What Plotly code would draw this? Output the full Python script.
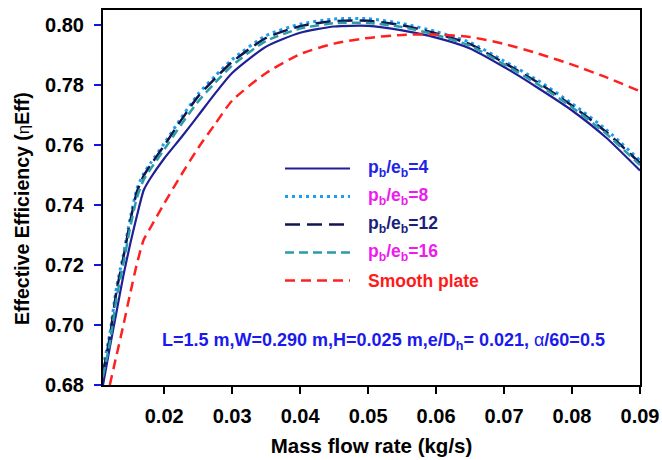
import plotly.graph_objects as go

# Mass flow rate grid (kg/s) for the roughened plates
mass_flow = [0.011, 0.012, 0.013, 0.014, 0.015, 0.016, 0.017, 0.018, 0.02, 0.0225,
             0.025, 0.0275, 0.03, 0.035, 0.04, 0.045, 0.05, 0.055, 0.06, 0.065,
             0.07, 0.075, 0.08, 0.085, 0.09]

eff_pb4 = [0.680, 0.6925, 0.7045, 0.7165, 0.7270, 0.7365, 0.7450, 0.7490, 0.7555, 0.7625,
           0.7698, 0.7772, 0.7840, 0.7928, 0.7974, 0.7995, 0.7997, 0.7982, 0.7958, 0.7922,
           0.7860, 0.7790, 0.7715, 0.7625, 0.7515]
eff_pb8 = [0.686, 0.6970, 0.7127, 0.7235, 0.7355, 0.7455, 0.7505, 0.7540, 0.7605, 0.7690,
           0.7770, 0.7830, 0.7885, 0.7965, 0.8003, 0.8020, 0.8021, 0.8005, 0.7978, 0.7942,
           0.7880, 0.7815, 0.7738, 0.7652, 0.7548]
eff_pb12 = [0.684, 0.6960, 0.7115, 0.7225, 0.7345, 0.7445, 0.7498, 0.7533, 0.7598, 0.7683,
            0.7762, 0.7822, 0.7877, 0.7957, 0.7996, 0.8013, 0.8014, 0.7999, 0.7972, 0.7936,
            0.7874, 0.7808, 0.7731, 0.7644, 0.7540]
eff_pb16 = [0.683, 0.6940, 0.7090, 0.7205, 0.7325, 0.7425, 0.7485, 0.7520, 0.7585, 0.7668,
            0.7745, 0.7808, 0.7865, 0.7947, 0.7988, 0.8006, 0.8007, 0.7993, 0.7967, 0.7931,
            0.7869, 0.7802, 0.7726, 0.7638, 0.7533]

# Smooth plate reference
mass_flow_smooth = [0.012, 0.013, 0.014, 0.015, 0.016, 0.017, 0.018, 0.02, 0.0225, 0.025,
                    0.0275, 0.03, 0.035, 0.04, 0.045, 0.05, 0.055, 0.06, 0.065, 0.07,
                    0.075, 0.08, 0.085, 0.09]
eff_smooth = [0.680, 0.6900, 0.7000, 0.7105, 0.7205, 0.7285, 0.7325, 0.7405, 0.7500, 0.7590,
              0.7670, 0.7748, 0.7840, 0.7903, 0.7938, 0.7957, 0.7967, 0.7968, 0.7960, 0.7937,
              0.7905, 0.7868, 0.7826, 0.7779]

x_ticks = [0.02, 0.03, 0.04, 0.05, 0.06, 0.07, 0.08, 0.09]
y_ticks = [0.68, 0.70, 0.72, 0.74, 0.76, 0.78, 0.80]

FONT = "Liberation Sans, Arial, sans-serif"
PB = "p<sub>b</sub>/e<sub>b</sub>="

# (x, y, legend text, text colour, line style)
series = [
    (mass_flow, eff_pb4, PB + "4", "#2323e6", dict(color="#1f1f96", width=2.2)),
    (mass_flow, eff_pb8, PB + "8", "#ee1aee", dict(color="#1e9cf0", width=3, dash="3px,4px")),
    (mass_flow, eff_pb12, PB + "12", "#1b1f7a", dict(color="#121650", width=2.5, dash="15px,7px")),
    (mass_flow, eff_pb16, PB + "16", "#ee1aee", dict(color="#2a9ca6", width=2.5, dash="9px,5px")),
    (mass_flow_smooth, eff_smooth, "Smooth plate", "#ff1a1a", dict(color="#ff2020", width=2.5, dash="10px,6px")),
]

W, H = 662, 460
L, R, T, B = 103, 22, 10, 75
PW, PH = W - L - R, H - T - B

def px_x(px):
    return (px - L) / PW

def px_y(py):
    return (H - B - py) / PH

fig = go.Figure()
for xs, ys, name, _, line in series:
    fig.add_trace(go.Scatter(x=xs, y=ys, mode="lines", name=name, showlegend=False,
                             line=dict(shape="spline", smoothing=0.6, **line)))

# Legend drawn as line samples plus coloured labels
for i, (_, _, name, tcolor, line) in enumerate(series):
    yc = px_y(168.5 + 28 * i)
    fig.add_shape(type="line", xref="paper", yref="paper",
                  x0=px_x(285), x1=px_x(350), y0=yc, y1=yc, line=line)
    fig.add_annotation(xref="paper", yref="paper", x=px_x(366), y=yc,
                       xanchor="left", yanchor="middle", showarrow=False, text=name,
                       font=dict(family=FONT, size=17.5, color=tcolor, weight="bold"))

fig.update_layout(
    width=W, height=H,
    margin=dict(l=L, r=R, t=T, b=B, autoexpand=False),
    paper_bgcolor="white", plot_bgcolor="white",
    font=dict(family=FONT, size=20, color="black", weight="bold"),
    showlegend=False,
    xaxis=dict(range=[0.011, 0.09], tickvals=x_ticks, tickformat=".2f",
               showline=True, linecolor="black", linewidth=2, mirror=True,
               ticks="outside", ticklen=7, tickwidth=2, tickcolor="black",
               showgrid=False, zeroline=False, ticklabelstandoff=5, automargin=False,
               title=dict(text="Mass flow rate (kg/s)", standoff=13,
                          font=dict(family=FONT, size=20.5, weight="bold"))),
    yaxis=dict(range=[0.68, 0.805], tickvals=y_ticks, tickformat=".2f",
               showline=True, linecolor="black", linewidth=2, mirror=True,
               ticks="outside", ticklen=7, tickwidth=2, tickcolor="#1414e6",
               showgrid=False, zeroline=False, ticklabelstandoff=6, automargin=False),
)

# Y-axis title
fig.add_annotation(
    xref="paper", yref="paper", x=px_x(22), y=px_y(209), xanchor="center", yanchor="middle",
    textangle=-90, showarrow=False,
    text="Effective Efficiency (<span style='font-weight:normal;font-size:17px'>η</span>Eff)",
    font=dict(family=FONT, size=19.5, color="black", weight="bold"),
)

# Geometry note
fig.add_annotation(
    xref="paper", yref="paper", x=px_x(383), y=px_y(341), xanchor="center", yanchor="middle",
    text="L=1.5 m,W=0.290 m,H=0.025 m,e/D<sub>h</sub>= 0.021, <span style='font-weight:normal'>α</span>/60=0.5",
    showarrow=False, font=dict(family=FONT, size=18, color="#1a1aee", weight="bold"),
)

fig.write_html("out.html")
